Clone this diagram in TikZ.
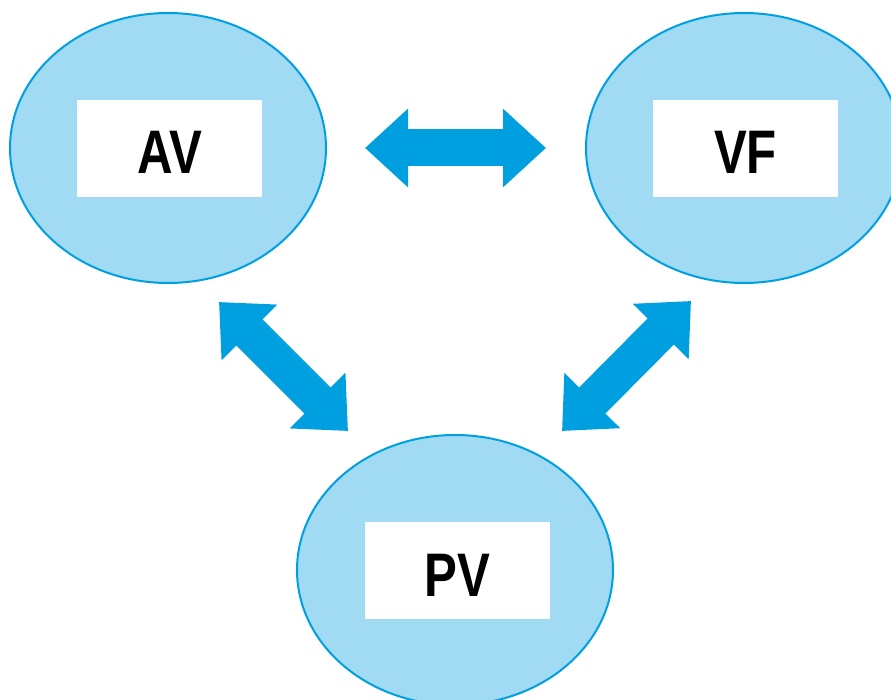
\documentclass[tikz,border=0pt]{standalone}
\usepackage{fontspec}
\newfontfamily\tagfont{Liberation Sans}[FakeStretch=0.8]
\usetikzlibrary{shapes.geometric}
\usetikzlibrary{arrows.meta}
\definecolor{linkblue}{RGB}{0,160,224}
\definecolor{cellblue}{RGB}{160,218,243}

\begin{document}
\begin{tikzpicture}[x=1pt,y=-1pt,
        cell/.style={ellipse,draw=linkblue,fill=cellblue,line width=2pt,minimum width=316pt,minimum height=270pt,inner sep=0pt},
        tag/.style={fill=white,minimum width=185pt,minimum height=97pt,inner sep=0pt,text height=51pt,text depth=0pt,
            font=\fontsize{61.5}{70}\selectfont\tagfont\bfseries},
        link/.style={draw=linkblue,line width=37pt,{Triangle[width=76pt,length=43pt]}-{Triangle[width=76pt,length=43pt]}}]
            \useasboundingbox (0,0) rectangle (891,700);
            \node[cell] (av) at (168,148) {};
            \node[cell] (vf) at (744,148) {};
            \node[cell] (pv) at (455,570) {};
            \node[tag] (avtag) at (169.5,148.5) {AV};
            \node[tag] (vftag) at (745.5,148.5) {VF};
            \node[tag] (pvtag) at (457.5,570.5) {PV};

            \coordinate (avlow) at (219,302);
            \coordinate (pvleft) at (348,431);
            \coordinate (vflow) at (691,301);
            \coordinate (pvright) at (562,431);

            \draw[link,shorten <=38pt,shorten >=39pt] (av) -- (vf);
            \draw[link] (avlow) -- (pvleft);
            \draw[link] (vflow) -- (pvright);
        \end{tikzpicture}
\end{document}
